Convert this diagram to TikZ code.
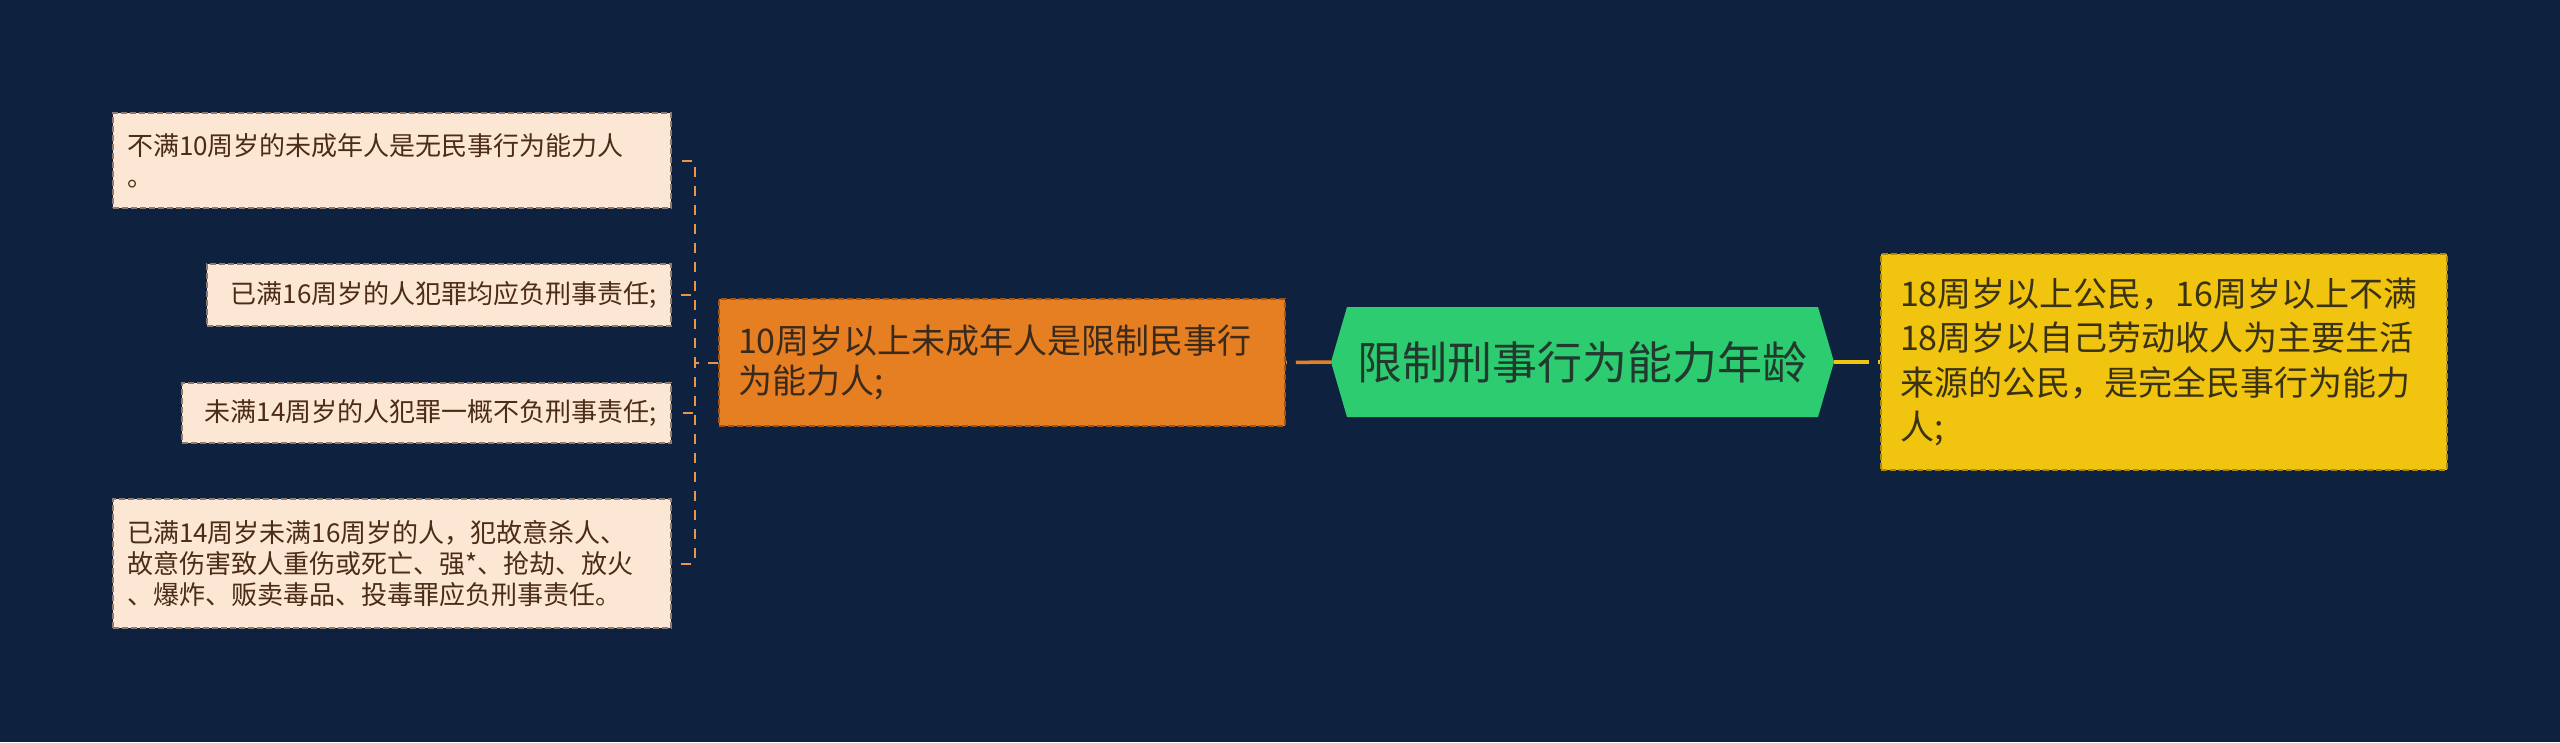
\documentclass[tikz,border=0pt]{standalone}
\usepackage{fontspec}
\setmainfont{Noto Sans CJK SC}
\usetikzlibrary{calc}
\definecolor{bg}{HTML}{0E2240}
\definecolor{peach}{HTML}{FCE6D4}
\definecolor{peachline}{HTML}{8C7B6E}
\definecolor{leaftext}{HTML}{4A2C17}
\definecolor{orangefill}{HTML}{E67E22}
\definecolor{orangeline}{HTML}{A35414}
\definecolor{orangetext}{HTML}{3A2A1C}
\definecolor{greenfill}{HTML}{2ECC71}
\definecolor{greentext}{HTML}{223A2E}
\definecolor{yellowfill}{HTML}{F1C40F}
\definecolor{yellowline}{HTML}{A88A0C}
\definecolor{yellowtext}{HTML}{3A3214}
\definecolor{brkcol}{HTML}{E8964A}
\tikzset{
  leaf/.style={fill=peach, draw=peachline, dash pattern=on 6pt off 3pt, line width=1.5pt,
    text=leaftext, font=\fontsize{26}{31}\selectfont, inner xsep=14pt, inner ysep=0pt},
  midbox/.style={fill=orangefill, draw=orangeline, dash pattern=on 6pt off 3pt, line width=1.5pt,
    text=orangetext, font=\fontsize{34}{40}\selectfont, inner xsep=19pt, inner ysep=0pt, align=left},
  rightbox/.style={fill=yellowfill, draw=yellowline, dash pattern=on 6pt off 3pt, line width=1.5pt,
    text=yellowtext, font=\fontsize{34}{44.5}\selectfont, inner xsep=19pt, inner ysep=0pt, align=left},
  rootbox/.style={text=greentext, font=\fontsize{45}{54}\selectfont, inner sep=0pt},
  brk/.style={draw=brkcol, line width=2pt, dash pattern=on 10pt off 9pt},
  oconn/.style={draw=orangefill, line width=3.5pt, dash pattern=on 35pt off 9pt},
  yconn/.style={draw=yellowfill, line width=3.5pt, dash pattern=on 35pt off 9pt}
}
\begin{document}
\begin{tikzpicture}[x=1pt,y=-1pt]
\useasboundingbox (0,0) rectangle (2560,742);
\fill[bg] (0,0) rectangle (2560,742);

% root hexagon shape
\fill[greenfill] (1331,362) -- (1347,307) -- (1818,307) -- (1834,362) -- (1818,417) -- (1347,417) -- cycle;
\node[rootbox, minimum width=503pt, minimum height=110pt] (hex) at (1582.5,362) {限制刑事行为能力年龄};

% middle (orange) box
\node[midbox, minimum width=566pt, minimum height=127pt, text width=528pt] (ob) at (1002,362.5)
  {10周岁以上未成年人是限制民事行\\为能力人;};

% right (yellow) box
\node[rightbox, minimum width=566pt, minimum height=216pt, text width=528pt] (yb) at (2164,362)
  {18周岁以上公民，16周岁以上不满\\18周岁以自己劳动收人为主要生活\\来源的公民，是完全民事行为能力\\人;};

% leaves
\node[leaf, align=left, minimum width=558pt, minimum height=95pt, text width=530pt] (c1) at (392,160.5)
  {不满10周岁的未成年人是无民事行为能力人\\。};
\node[leaf, align=right, minimum width=464pt, minimum height=62pt, text width=436pt] (c2) at (439,295)
  {已满16周岁的人犯罪均应负刑事责任;};
\node[leaf, align=right, minimum width=489pt, minimum height=60pt, text width=461pt] (c3) at (426.5,413)
  {未满14周岁的人犯罪一概不负刑事责任;};
\node[leaf, align=left, minimum width=558pt, minimum height=129pt, text width=530pt] (c4) at (392,563.5)
  {已满14周岁未满16周岁的人，犯故意杀人、\\故意伤害致人重伤或死亡、强*、抢劫、放火\\、爆炸、贩卖毒品、投毒罪应负刑事责任。};

% connectors
\draw[oconn] (hex.west) -- (ob.east);
\draw[yconn] (hex.east) -- (yb.west);

\coordinate (j) at (695,362.5);
\draw[brk] (ob.west) -- (j) |- ([xshift=8pt]c1.east);
\draw[brk] (ob.west) -- (j) |- ([xshift=8pt]c2.east);
\draw[brk] (ob.west) -- (j) |- ([xshift=8pt]c3.east);
\draw[brk] (ob.west) -- (j) |- ([xshift=8pt]c4.east);
\end{tikzpicture}
\end{document}
